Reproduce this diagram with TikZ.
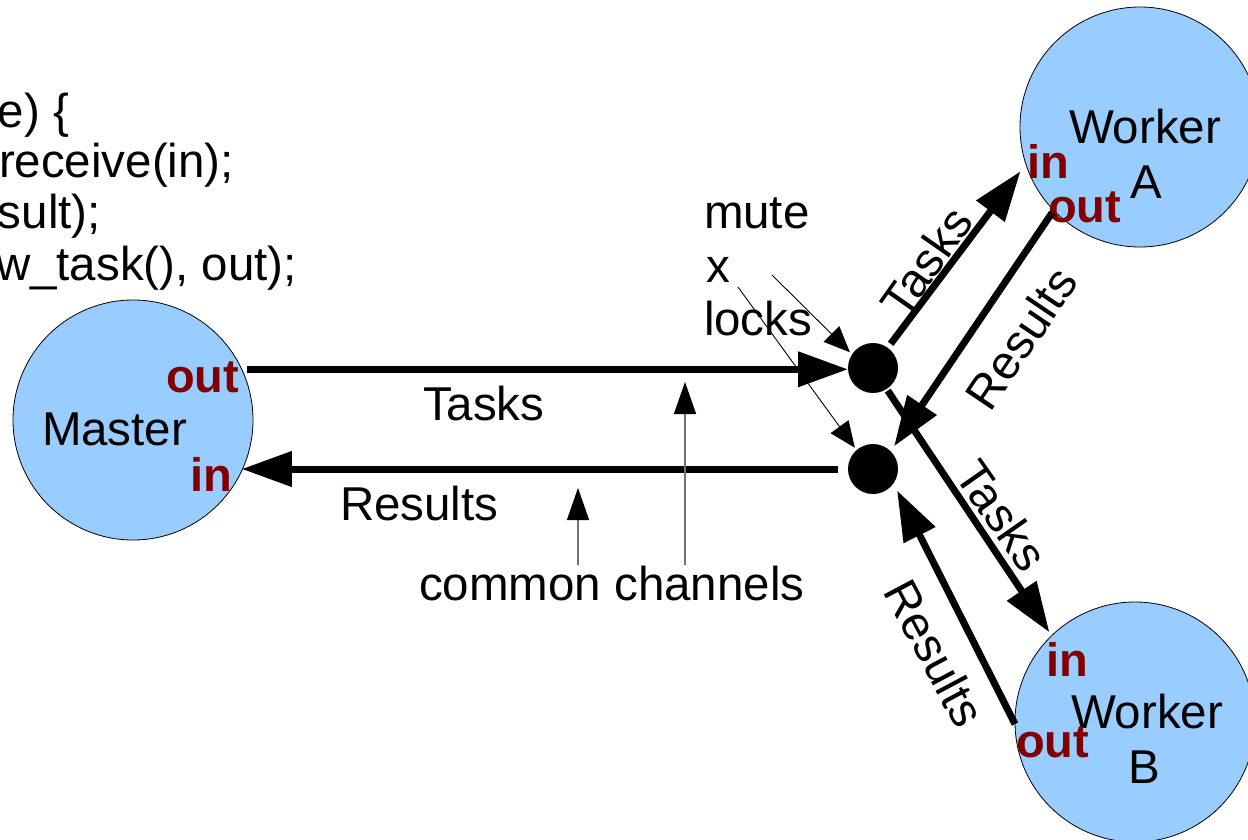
\documentclass[tikz,border=0pt]{standalone}
\usepackage{fontspec}
\setmainfont{Liberation Sans}
\usetikzlibrary{arrows.meta}
\definecolor{nodeblue}{HTML}{99CCFF}
\definecolor{portred}{HTML}{800000}
\begin{document}
\begin{tikzpicture}[x=1pt,y=-1pt,
  every node/.style={inner sep=0pt, outer sep=0pt},
  txt/.style={font=\fontsize{47.5}{56}\selectfont},
  port/.style={font=\fontsize{47}{56}\selectfont\bfseries, text=portred},
  proc/.style={circle, draw=black, line width=0.8pt, fill=nodeblue, minimum size=240pt},
  lockdot/.style={circle, fill=black, minimum size=50pt},
  channel/.style={line width=7pt, -{Triangle[length=50pt,width=34pt]}},
  pointer/.style={line width=0.9pt, -{Triangle[length=26pt,width=22pt]}},
  hint/.style={draw=black!55, line width=1.4pt, -{Triangle[length=32pt,width=22pt,color=black]}},
]
\useasboundingbox (0,0) rectangle (1248,839);
\clip (0,0) rectangle (1248,839);

% code fragment of the master loop
\node[txt, anchor=base west] (c1) at (-2,127) {e) \{};
\node[txt, anchor=base west] (c2) at (-1,177) {receive(in);};
\node[txt, anchor=base west] (c3) at (-2,228) {sult);};
\node[txt, anchor=base west] (c4) at (-4,280) {w\_task(), out);};

% processes
\node[proc] (master) at (133,420) {};
\node[proc] (wa) at (1140,127) {};
\node[proc] (wb) at (1135,722) {};

% shared channel end points
\node[lockdot] (d1) at (873,368) {};
\node[lockdot] (d2) at (873,469) {};

% process labels and ports
\node[txt, anchor=base west] (mlab) at (42,445) {Master};
\node[port, anchor=base west] (mout) at (166,392) {out};
\node[port, anchor=base west] (min) at (190,491) {in};

\node[txt, anchor=base west] (walab) at (1069,143) {Worker};
\node[txt, anchor=base west] (walab2) at (1130,198) {A};
\node[port, anchor=base west] (wain) at (1027,178) {in};
\node[port, anchor=base west] (waout) at (1048,222) {out};

\node[txt, anchor=base west] (wblab) at (1071,728) {Worker};
\node[txt, anchor=base west] (wblab2) at (1128,783) {B};
\node[port, anchor=base west] (wbin) at (1046,676) {in};
\node[port, anchor=base west] (wbout) at (1016,757) {out};

% channels
\draw[channel, shorten <=5pt] (master.25) -- (master.25 -| d1.west);
\draw[channel, shorten <=10pt] (d2.west) -- (d2.west -| master.-25);
\draw[channel, shorten <=5pt, shorten >=9pt] (d1.54) -- (wa.198);
\draw[channel, shorten <=3pt, shorten >=6pt] (wa.224) -- (d2.45);
\draw[channel, shorten <=2pt, shorten >=4pt] (d1.-57) -- (wb.134);
\draw[channel, shorten >=8pt] (wb.181) -- (d2.-35);

% channel labels
\node[txt, anchor=base west] (ltasks) at (423,420) {Tasks};
\node[txt, anchor=base west] (lres) at (340,520) {Results};
\node[txt, rotate=55] (ltasksa) at (926,262) {Tasks};
\node[txt, rotate=56] (lresa) at (1021,338) {Results};
\node[txt, rotate=-55] (ltasksb) at (1002,515) {Tasks};
\node[txt, rotate=-62] (lresb) at (935,653) {Results};

% mutex annotation
\node[txt, anchor=base west] (mute) at (704,228) {mute};
\node[txt, anchor=base west] (mx) at (706,282) {x};
\node[txt, anchor=base west] (locks) at (704,335) {locks};
\coordinate (p1) at (772,275);
\coordinate (p2) at (738,287);
\draw[pointer, shorten >=3pt] (p1) -- (d1.147);
\draw[pointer, shorten >=3pt] (p2) -- (d2.131);

% common channels annotation
\node[txt, anchor=base west] (cc) at (419,600) {common channels};
\coordinate (h1) at (685,565);
\coordinate (h1t) at (685,382);
\coordinate (h2) at (578,565);
\coordinate (h2t) at (578,488);
\draw[hint] (h1) -- (h1t);
\draw[hint] (h2) -- (h2t);
\end{tikzpicture}
\end{document}
